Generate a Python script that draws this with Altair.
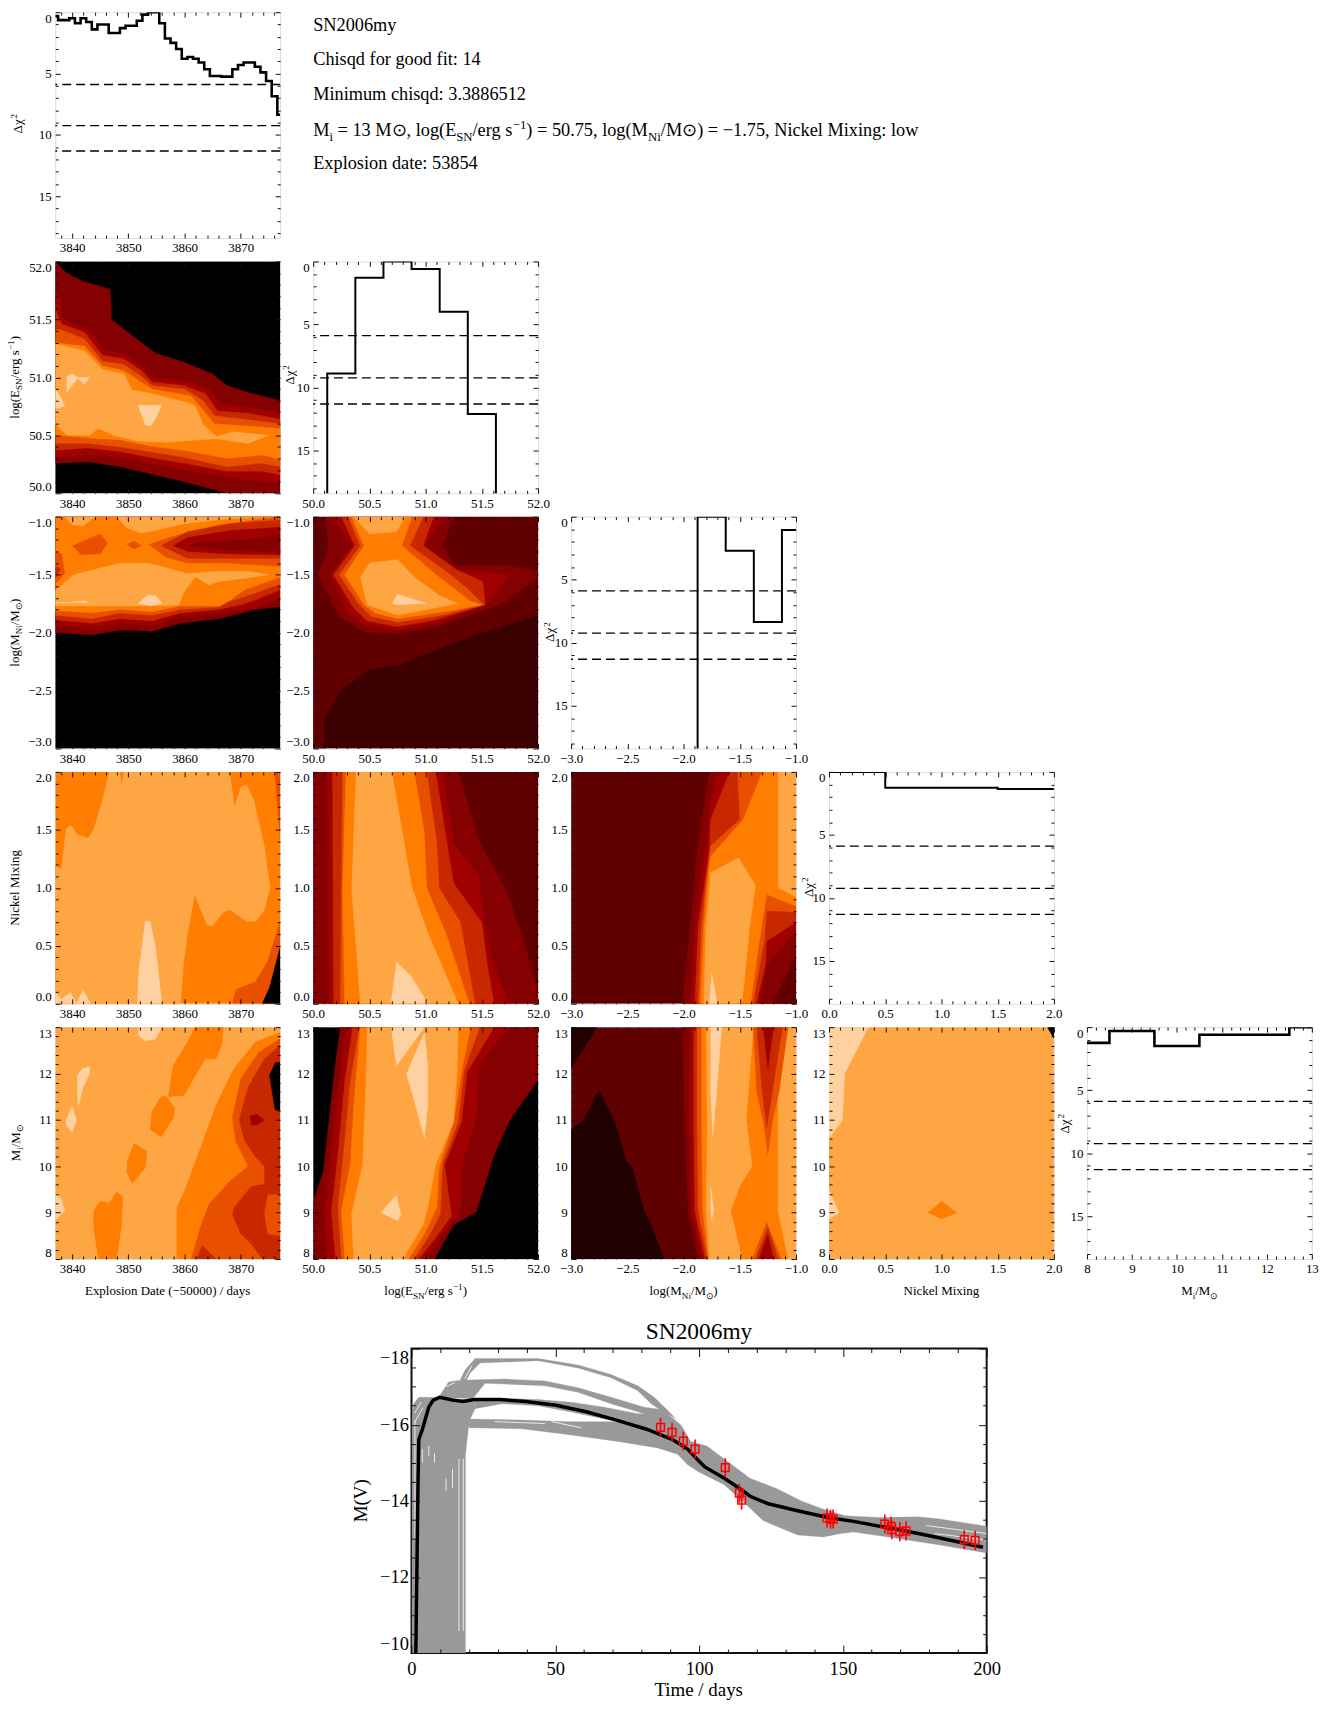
import altair as alt
import pandas as pd

FONT = "Liberation Serif"
PANEL_W, PANEL_H = 226, 233
TOP_H = 227
PEACH, LIGHT, ORANGE, DEEP, RED1, RED2, RED3, RED4, RED5, RED6, BLACK = (
    "#ffd0a0", "#ffa644", "#ff7d00", "#e85000", "#c82800", "#a00000",
    "#850000", "#600000", "#3c0000", "#200000", "#000000")

# axis ranges and ticks
DATE = (3837, 3877, [3840, 3850, 3860, 3870], [v for v in range(3838, 3877, 2) if v % 10], "d", "Explosion Date")
EN = (50, 52, [50, 50.5, 51, 51.5, 52], [50.1, 50.2, 50.3, 50.4, 50.6, 50.7, 50.8, 50.9, 51.1, 51.2, 51.3, 51.4, 51.6, 51.7, 51.8, 51.9], ".1f", "E")
NI = (-3, -1, [-3, -2.5, -2, -1.5, -1], [-2.9, -2.8, -2.7, -2.6, -2.4, -2.3, -2.2, -2.1, -1.9, -1.8, -1.7, -1.6, -1.4, -1.3, -1.2, -1.1], ".1f", "Ni")
MIX = (0, 2, [0, 0.5, 1, 1.5, 2], [0.1, 0.2, 0.3, 0.4, 0.6, 0.7, 0.8, 0.9, 1.1, 1.2, 1.3, 1.4, 1.6, 1.7, 1.8, 1.9], ".1f", "Mix")
MASS = (8, 13, [8, 9, 10, 11, 12, 13], [8.2, 8.4, 8.6, 8.8, 9.2, 9.4, 9.6, 9.8, 10.2, 10.4, 10.6, 10.8, 11.2, 11.4, 11.6, 11.8, 12.2, 12.4, 12.6, 12.8], "d", "M")
CHI_MAJOR = [0, 5, 10, 15]
CHI_MINOR = [1, 2, 3, 4, 6, 7, 8, 9, 11, 12, 13, 14, 16, 17, 18]
CHI_LEVELS = [5.89, 9.24, 11.31]

# one-dimensional chi-square profiles (step curves)
H_DATE = [(3837, 0.32), (3837.5, 0.65), (3839.5, 0.5), (3840.5, 0.9), (3841.5, 0.5), (3842.5, 0.8), (3843.5, 1.4),
          (3844.5, 1.0), (3846.5, 1.7), (3848.5, 1.3), (3849.5, 1.1), (3851.5, 0.7), (3852.5, 0.2), (3853.5, 0.0),
          (3855.5, 0.9), (3856.5, 2.15), (3857.5, 2.5), (3858.5, 3.0), (3859.5, 3.8), (3860.5, 3.65), (3861.5, 3.8),
          (3862.5, 4.1), (3863.5, 4.65), (3864.5, 5.2), (3866.5, 5.25), (3868.5, 4.65), (3869.5, 4.3), (3870.5, 4.1),
          (3872.5, 4.45), (3873.5, 4.9), (3874.5, 5.6), (3875.5, 6.85), (3876.5, 8.35), (3877, 8.35)]
H_E = [(50.125, 20), (50.125, 8.9), (50.375, 1.3), (50.625, 0), (50.875, 0.6), (51.125, 4.0), (51.375, 12.1), (51.625, 20)]
H_NI = [(-1.875, 20), (-1.875, 0), (-1.625, 2.7), (-1.375, 8.35), (-1.125, 1.05), (-1, 1.05)]
H_MIX = [(0, 0), (0.5, 1.25), (1.5, 1.35), (2, 1.35)]
H_M = [(8, 1.25), (8.5, 0.3), (9.5, 1.5), (10.5, 0.6), (12.5, 0), (13, 0)]

# filled contour regions, painted in order
C_DATE_E = [
    (BLACK, [(3837, 50), (3877, 50), (3877, 52), (3837, 52)]),
    (RED3, [(3837, 52), (3839, 51.9), (3841.9, 51.83), (3846.8, 51.76), (3847, 51.5), (3852.3, 51.3), (3854.8, 51.21), (3859.9, 51.13), (3865, 51.03), (3867.5, 50.93), (3871.3, 50.87), (3877, 50.8), (3877, 50), (3867.5, 50), (3859.9, 50.1), (3853.6, 50.17), (3848.5, 50.23), (3842.8, 50.27), (3837, 50.26)]),
    (RED2, [(3837, 51.73), (3837.9, 51.7), (3838.1, 51.53), (3839.7, 51.47), (3842.2, 51.43), (3844.1, 51.36), (3845.4, 51.24), (3849.2, 51.2), (3852.3, 51.1), (3854.2, 51), (3859.9, 50.97), (3864.3, 50.9), (3866.6, 50.77), (3871.3, 50.74), (3877, 50.7), (3877, 50.09), (3873.8, 50.1), (3867.5, 50.14), (3859.9, 50.2), (3853.6, 50.26), (3848.5, 50.31), (3842.8, 50.33), (3837, 50.31)]),
    (RED1, [(3837, 51.6), (3838.1, 51.46), (3842.2, 51.39), (3845.4, 51.19), (3849.2, 51.16), (3852.3, 51.06), (3854.2, 50.96), (3859.9, 50.93), (3863.7, 50.86), (3865.9, 50.71), (3871.3, 50.69), (3877, 50.64), (3877, 50.16), (3873.8, 50.19), (3867.5, 50.19), (3859.9, 50.26), (3853.6, 50.31), (3848.5, 50.36), (3842.8, 50.39), (3837, 50.37)]),
    (DEEP, [(3837, 51.41), (3838.1, 51.41), (3842.2, 51.33), (3845.4, 51.14), (3849.2, 51.11), (3852.3, 51.01), (3854.2, 50.93), (3859.9, 50.9), (3863.1, 50.81), (3865.3, 50.67), (3877, 50.6), (3877, 50.23), (3873.8, 50.26), (3867.5, 50.23), (3859.9, 50.31), (3853.6, 50.36), (3848.5, 50.4), (3842.8, 50.43), (3837, 50.43)]),
    (ORANGE, [(3837, 51.3), (3842.2, 51.27), (3845.4, 51.1), (3849.2, 51.06), (3852.3, 50.96), (3854.2, 50.9), (3861.2, 50.84), (3863.1, 50.73), (3865.3, 50.6), (3877, 50.56), (3877, 50.29), (3873.8, 50.33), (3867.5, 50.3), (3859.9, 50.37), (3853.6, 50.41), (3848.5, 50.46), (3844.7, 50.47), (3837, 50.5)]),
    (LIGHT, [(3837, 51.29), (3842.2, 51.23), (3845.4, 51.07), (3849.2, 51.03), (3850.7, 50.89), (3854.2, 50.86), (3859.9, 50.79), (3861.8, 50.76), (3863.4, 50.59), (3865.6, 50.49), (3868.8, 50.53), (3875.1, 50.5), (3871.3, 50.43), (3865.6, 50.47), (3856.7, 50.44), (3851.7, 50.45), (3847.3, 50.5), (3844.7, 50.56), (3843.1, 50.5), (3839, 50.5), (3837, 50.6)]),
    (PEACH, [(3839, 51.01), (3840, 51.03), (3841, 51), (3843.1, 51), (3842.2, 50.94), (3841, 50.99), (3839, 50.87)]),
    (PEACH, [(3837, 50.9), (3837.9, 50.84), (3838.7, 50.75), (3837, 50.73)]),
    (PEACH, [(3851.7, 50.76), (3856, 50.76), (3854.8, 50.64), (3853.9, 50.58), (3853, 50.59)]),
]
C_DATE_NI = [
    (BLACK, [(3837, -3), (3877, -3), (3877, -1), (3837, -1)]),
    (RED3, [(3837, -2.0), (3843.5, -2.02), (3848.5, -1.98), (3851, -1.98), (3854.2, -1.99), (3859.3, -1.92), (3866.2, -1.88), (3872.6, -1.8), (3877, -1.78), (3877, -1), (3837, -1)]),
    (RED2, [(3837, -1.93), (3843.5, -1.96), (3848.5, -1.92), (3854.2, -1.94), (3859.3, -1.86), (3866.2, -1.83), (3872.6, -1.79), (3877, -1.7), (3877, -1), (3837, -1)]),
    (RED1, [(3837, -1.89), (3843.5, -1.92), (3848.5, -1.88), (3854.2, -1.9), (3859.3, -1.83), (3866.2, -1.8), (3870, -1.76), (3872.6, -1.72), (3877, -1.63), (3877, -1), (3837, -1)]),
    (DEEP, [(3837, -1.85), (3843.5, -1.88), (3848.5, -1.83), (3854.2, -1.85), (3859.3, -1.8), (3866.2, -1.78), (3868.1, -1.73), (3871.3, -1.68), (3877, -1.58), (3877, -1), (3837, -1)]),
    (ORANGE, [(3837, -1.81), (3843.5, -1.83), (3848.5, -1.8), (3854.2, -1.82), (3859.3, -1.77), (3866.2, -1.77), (3868.1, -1.72), (3870.7, -1.63), (3877, -1.52), (3877, -1), (3837, -1)]),
    (DEEP, [(3837, -1.3), (3838.1, -1.32), (3838.7, -1.49), (3837, -1.58)]),
    (RED1, [(3837, -1.43), (3838, -1.45), (3837, -1.53)]),
    (DEEP, [(3840, -1.25), (3845, -1.15), (3846.3, -1.23), (3845, -1.32), (3841.6, -1.33)]),
    (DEEP, [(3849.7, -1.24), (3851, -1.21), (3852.3, -1.25), (3851, -1.28)]),
    (DEEP, [(3853.6, -1.24), (3858.6, -1.16), (3866.2, -1.07), (3877, -1), (3877, -1.43), (3867.5, -1.4), (3860.5, -1.4), (3856.7, -1.35)]),
    (RED1, [(3855.8, -1.25), (3860.5, -1.13), (3868.1, -1.06), (3877, -1.03), (3877, -1.36), (3867.5, -1.36), (3860.5, -1.36)]),
    (RED2, [(3858, -1.25), (3860.5, -1.18), (3868.1, -1.12), (3877, -1.09), (3877, -1.33), (3867.5, -1.32), (3860.5, -1.3)]),
    (RED3, [(3860.5, -1.25), (3863.1, -1.22), (3871.3, -1.2), (3877, -1.16), (3877, -1.3), (3867.5, -1.29), (3863.1, -1.26)]),
    (LIGHT, [(3837, -1.64), (3840.3, -1.5), (3843.5, -1.46), (3848.5, -1.4), (3853.6, -1.4), (3857.4, -1.45), (3860.5, -1.49), (3866.2, -1.47), (3871.3, -1.47), (3875.1, -1.5), (3871.3, -1.53), (3866.2, -1.56), (3864.3, -1.59), (3861.9, -1.52), (3859.9, -1.65), (3859, -1.76), (3856.1, -1.77), (3846, -1.77), (3837, -1.77)]),
    (PEACH, [(3851.7, -1.75), (3853.3, -1.68), (3854.8, -1.68), (3856.1, -1.75), (3853.9, -1.77)]),
    (PEACH, [(3837, -1.74), (3843.1, -1.74), (3842.2, -1.725), (3837, -1.75)]),
    (LIGHT, [(3838.7, -1), (3840, -1.07), (3841.9, -1.08), (3844.1, -1)]),
    (LIGHT, [(3847.9, -1), (3849.8, -1.1), (3852.3, -1.14), (3854.8, -1.12), (3859.9, -1.06), (3867.5, -1.02), (3875.1, -1)]),
]
C_E_NI = [
    (RED5, [(50, -3), (52, -3), (52, -1), (50, -1)]),
    (RED4, [(50, -3), (50.09, -3), (50.1, -2.75), (50.24, -2.5), (50.5, -2.32), (50.75, -2.28), (51.06, -2.16), (51.5, -2.0), (52, -1.85), (52, -1), (50, -1)]),
    (RED3, [(50.1, -1), (50.14, -1.25), (50.04, -1.5), (50.23, -1.86), (50.45, -1.99), (50.75, -2.01), (51.09, -1.95), (51.69, -1.75), (52, -1.52), (52, -1.47), (51.72, -1.42), (51.26, -1.42), (51.15, -1.25), (51.25, -1)]),
    (RED2, [(50.18, -1), (50.34, -1.25), (50.15, -1.5), (50.31, -1.84), (50.47, -1.93), (50.75, -1.98), (51.09, -1.92), (51.54, -1.76), (51.74, -1.5), (51.26, -1.46), (50.99, -1.25), (51.15, -1)]),
    (RED1, [(50.25, -1), (50.37, -1.25), (50.18, -1.5), (50.36, -1.79), (50.48, -1.9), (50.75, -1.95), (51.09, -1.89), (51.53, -1.76), (51.51, -1.56), (51.28, -1.46), (50.98, -1.25), (51.07, -1)]),
    (DEEP, [(50.31, -1), (50.42, -1.25), (50.23, -1.5), (50.41, -1.76), (50.52, -1.86), (50.75, -1.91), (51.15, -1.85), (51.52, -1.76), (51.37, -1.62), (51.18, -1.47), (50.86, -1.25), (50.98, -1)]),
    (ORANGE, [(50.34, -1), (50.45, -1.25), (50.28, -1.5), (50.45, -1.76), (50.55, -1.83), (50.75, -1.88), (51.18, -1.82), (51.5, -1.76), (51.4, -1.73), (51.12, -1.52), (50.79, -1.25), (50.88, -1)]),
    (LIGHT, [(50.36, -1), (50.5, -1.15), (50.74, -1.13), (50.82, -1)]),
    (LIGHT, [(50.5, -1.4), (50.75, -1.37), (50.9, -1.52), (51.12, -1.68), (51.29, -1.75), (50.75, -1.85), (50.48, -1.76), (50.42, -1.52)]),
    (PEACH, [(50.75, -1.67), (51.01, -1.75), (50.75, -1.76), (50.7, -1.75)]),
]
C_DATE_MIX = [
    (ORANGE, [(3837, 0), (3877, 0), (3877, 2), (3837, 2)]),
    (LIGHT, [(3837, 1.19), (3838.1, 1.16), (3838.9, 1.51), (3839.8, 1.54), (3840.9, 1.46), (3842.8, 1.43), (3843.8, 1.5), (3845.4, 1.76), (3846.6, 2), (3848.5, 2), (3848.8, 1.87), (3849.2, 2), (3868, 2), (3868.9, 1.7), (3870, 1.87), (3871, 1.89), (3872.3, 1.76), (3874.2, 1.36), (3875.2, 1.0), (3874.2, 0.81), (3872.6, 0.71), (3871, 0.71), (3868.1, 0.81), (3866.9, 0.79), (3865, 0.67), (3864, 0.68), (3861.8, 0.94), (3860.5, 0.59), (3859.8, 0.33), (3859.3, 0), (3837, 0)]),
    (DEEP, [(3876, 2), (3877, 2), (3877, 1.41)]),
    (DEEP, [(3868.5, 0), (3869.1, 0.12), (3872.6, 0.19), (3874.8, 0.37), (3877, 0.71), (3877, 0)]),
    (BLACK, [(3873.8, 0), (3875.1, 0.14), (3877, 0.49), (3877, 0)]),
    (PEACH, [(3851.6, 0), (3851.8, 0.27), (3853, 0.71), (3853.9, 0.71), (3854.8, 0.5), (3856, 0)]),
    (PEACH, [(3837, 0), (3837, 0.1), (3838.1, 0.04), (3839.7, 0.1), (3840.8, 0), (3841.9, 0.12), (3843.3, 0)]),
]
C_E_MIX = [
    (RED4, [(50, 0), (52, 0), (52, 2), (50, 2)]),
    (RED3, [(50, 2), (51.29, 2), (51.48, 1.39), (51.71, 1), (51.85, 0.61), (52, 0.1), (52, 0), (50, 0)]),
    (RED2, [(50.12, 2), (51.15, 2), (51.25, 1.39), (51.47, 1.1), (51.52, 0.7), (51.61, 0.33), (51.74, 0), (50.14, 0)]),
    (RED1, [(50.17, 2), (51.09, 2), (51.19, 1.39), (51.25, 1.04), (51.5, 0.7), (51.55, 0.33), (51.61, 0), (50.18, 0)]),
    (DEEP, [(50.26, 2), (51.01, 2), (51.1, 1.39), (51.12, 1), (51.31, 0.7), (51.44, 0), (50.24, 0)]),
    (ORANGE, [(50.29, 2), (50.9, 2), (50.99, 1.47), (51.01, 1), (51.18, 0.61), (51.39, 0), (50.28, 0), (50.26, 1)]),
    (LIGHT, [(50.38, 2), (50.7, 2), (50.77, 1.61), (50.88, 1), (51.02, 0.61), (51.29, 0), (50.42, 0), (50.34, 1)]),
    (PEACH, [(50.69, 0), (50.74, 0.36), (50.87, 0.24), (51.02, 0)]),
]
C_NI_MIX = [
    (RED4, [(-3, 0), (-1, 0), (-1, 2), (-3, 2)]),
    (RED3, [(-1.77, 2), (-1.87, 1.39), (-1.91, 1), (-2.01, 0), (-1, 0), (-1, 2)]),
    (RED2, [(-1.7, 2), (-1.76, 1.73), (-1.79, 1.44), (-1.84, 1.13), (-1.9, 0.67), (-1.94, 0), (-1, 0), (-1, 2)]),
    (RED1, [(-1.59, 2), (-1.76, 1.59), (-1.77, 1.33), (-1.8, 1.13), (-1.87, 0.67), (-1.9, 0), (-1, 0), (-1, 2)]),
    (DEEP, [(-1.52, 2), (-1.5, 1.59), (-1.76, 1.36), (-1.79, 1.13), (-1.84, 0.67), (-1.87, 0), (-1, 0), (-1, 2)]),
    (ORANGE, [(-1.3, 2), (-1.47, 1.59), (-1.76, 1.27), (-1.78, 1.13), (-1.82, 0.67), (-1.85, 0), (-1, 0), (-1, 2)]),
    (LIGHT, [(-1.76, 1.13), (-1.51, 1.26), (-1.36, 1.02), (-1.41, 0.67), (-1.48, 0), (-1.82, 0), (-1.8, 0.67)]),
    (LIGHT, [(-1.16, 2), (-1, 2), (-1, 0.92), (-1.16, 1.0)]),
    (DEEP, [(-1.26, 0.94), (-1, 0.84), (-1, 0), (-1.4, 0), (-1.32, 0.56)]),
    (RED1, [(-1.26, 0.8), (-1, 0.79), (-1, 0), (-1.38, 0), (-1.28, 0.54)]),
    (RED2, [(-1.26, 0.54), (-1, 0.7), (-1, 0), (-1.35, 0), (-1.27, 0.33)]),
    (RED3, [(-1.26, 0.33), (-1, 0.63), (-1, 0), (-1.32, 0)]),
    (RED4, [(-1.21, 0), (-1, 0.41), (-1, 0)]),
    (PEACH, [(-1.75, 0.27), (-1.7, 0), (-1.77, 0)]),
]
C_DATE_M = [
    (LIGHT, [(3837, 8), (3877, 8), (3877, 13), (3837, 13)]),
    (ORANGE, [(3861.8, 13), (3866.9, 13), (3866.6, 12.61), (3865.6, 12.32), (3863.7, 12.32), (3861.8, 11.93), (3859.9, 11.52), (3859, 11.52), (3857.1, 11.5), (3858, 12.18), (3860.5, 12.68)]),
    (ORANGE, [(3856.7, 11.52), (3855.8, 11.5), (3854.2, 11.18), (3853.9, 10.79), (3855.8, 10.63), (3858, 11.04), (3858.3, 11.25)]),
    (ORANGE, [(3851, 10.5), (3853.3, 10.32), (3853, 9.96), (3850.7, 9.63), (3849.7, 9.86), (3849.8, 10.11)]),
    (ORANGE, [(3843.8, 9.04), (3845, 9.25), (3846.6, 9.21), (3847.9, 9.45), (3849, 9.34), (3848.8, 8.75), (3847.9, 8), (3844.7, 8), (3843.8, 8.68)]),
    (ORANGE, [(3877, 12.89), (3872.6, 12.68), (3868.8, 12.11), (3865.6, 11.32), (3863.7, 10.68), (3861.5, 9.96), (3859.9, 9.43), (3858.6, 9.11), (3858.6, 8), (3877, 8)]),
    (DEEP, [(3877, 12.75), (3873.2, 12.46), (3870, 11.89), (3868.5, 11.04), (3869.1, 10.54), (3871.3, 10), (3868.1, 9.68), (3864.3, 9.18), (3862.8, 8.68), (3861.2, 8), (3877, 8)]),
    (RED1, [(3877, 12.61), (3874.2, 12.32), (3871.3, 11.71), (3869.7, 11), (3870.7, 10.54), (3872.6, 10.21), (3874.2, 10), (3874.2, 9.61), (3871.9, 9.57), (3868.8, 9.11), (3868.5, 8.96), (3870, 8.54), (3871.9, 8.32), (3873.8, 8), (3877, 8)]),
    (DEEP, [(3874.8, 9.39), (3877, 9.39), (3877, 8.5), (3874.8, 8.54), (3874.2, 9)]),
    (RED1, [(3863.1, 8.29), (3865.6, 8), (3862.1, 8)]),
    (RED2, [(3871.6, 11.09), (3872.9, 11.12), (3874.2, 11), (3872.9, 10.89), (3871.8, 10.88)]),
    (BLACK, [(3876.1, 12.24), (3877, 12.24), (3877, 11.21), (3876.1, 11.21), (3875.1, 11.96)]),
    (PEACH, [(3840.9, 11.96), (3841.9, 12.12), (3843.1, 12.14), (3843.1, 12), (3841.9, 11.68), (3841.1, 11.29), (3840.9, 11.68)]),
    (PEACH, [(3838.9, 11), (3840, 11.29), (3840.8, 11), (3840, 10.74), (3838.9, 10.89)]),
    (PEACH, [(3837, 9.43), (3838.1, 9.29), (3838.7, 9.04), (3837, 8.84)]),
    (PEACH, [(3851.7, 13), (3856, 13), (3854.8, 12.74), (3853, 12.7), (3851.8, 12.82)]),
]
C_E_M = [
    (BLACK, [(50, 8), (52, 8), (52, 13), (50, 13)]),
    (RED3, [(50.24, 13), (50.18, 11.89), (50.12, 10.54), (50.09, 9.89), (50.01, 9.32), (50, 8.96), (50.01, 8), (51.08, 8), (51.25, 8.74), (51.45, 9.01), (51.61, 10.25), (51.75, 11), (52, 11.86), (52, 13)]),
    (RED2, [(50.29, 13), (50.23, 11.82), (50.17, 10.54), (50.12, 9.39), (50.1, 9.04), (50.13, 8), (51.01, 8), (51.15, 8.54), (51.31, 9), (51.32, 10.04), (51.45, 11), (51.47, 12.18), (51.74, 13)]),
    (RED1, [(50.35, 13), (50.28, 11.82), (50.23, 10.54), (50.18, 9.39), (50.16, 9.04), (50.2, 8), (50.94, 8), (51.09, 8.46), (51.23, 8.93), (51.17, 10.04), (51.32, 10.96), (51.37, 12.04), (51.61, 13)]),
    (DEEP, [(50.41, 13), (50.33, 11.82), (50.28, 10.54), (50.22, 9.11), (50.25, 8), (50.9, 8), (51.04, 8.54), (51.13, 8.96), (51.15, 10.04), (51.29, 10.96), (51.34, 12.04), (51.48, 13)]),
    (ORANGE, [(50.42, 13), (50.36, 11.32), (50.33, 10.04), (50.25, 9.04), (50.28, 8), (50.85, 8), (50.99, 8.54), (51.1, 9.11), (51.12, 9.96), (51.25, 10.96), (51.32, 12.04), (51.4, 13)]),
    (LIGHT, [(50.48, 13), (50.47, 11.89), (50.44, 10.04), (50.34, 8.96), (50.36, 8), (50.8, 8), (50.98, 8.75), (51.02, 9.11), (51.09, 10.04), (51.25, 10.96), (51.28, 12.04), (51.29, 13)]),
    (PEACH, [(50.69, 13), (50.99, 13), (50.74, 12.16)]),
    (PEACH, [(50.99, 12.89), (51.02, 12.16), (51.02, 11.32), (50.99, 10.61), (50.83, 12)]),
    (PEACH, [(50.6, 9), (50.74, 9.38), (50.78, 8.96), (50.75, 8.82)]),
]
C_NI_M = [
    (RED4, [(-3, 8), (-1, 8), (-1, 13), (-3, 13)]),
    (RED6, [(-3, 10.79), (-2.89, 11), (-2.75, 11.64), (-2.61, 10.96), (-2.51, 10.11), (-2.46, 10), (-2.35, 9.04), (-2.28, 8.68), (-2.17, 8), (-3, 8)]),
    (RED6, [(-3, 13), (-2.77, 13), (-3, 12.11)]),
    (RED3, [(-2.01, 13), (-1.99, 10.96), (-1.96, 9.04), (-1.87, 8), (-1, 8), (-1, 13)]),
    (RED2, [(-1.94, 13), (-1.95, 10.96), (-1.93, 9.04), (-1.84, 8), (-1, 8), (-1, 13)]),
    (RED1, [(-1.91, 13), (-1.91, 10.89), (-1.9, 9.04), (-1.81, 8), (-1, 8), (-1, 13)]),
    (DEEP, [(-1.88, 13), (-1.88, 10.89), (-1.87, 9.04), (-1.79, 8), (-1, 8), (-1, 13)]),
    (ORANGE, [(-1.84, 13), (-1.84, 10.89), (-1.83, 9.04), (-1.78, 8), (-1, 8), (-1, 13)]),
    (LIGHT, [(-1.8, 13), (-1.79, 10.89), (-1.8, 9.04), (-1.77, 8), (-1.48, 8), (-1.58, 9.04), (-1.5, 9.57), (-1.39, 10), (-1.44, 11), (-1.38, 13)]),
    (LIGHT, [(-1.07, 13), (-1.16, 11.61), (-1.16, 10.07), (-1.16, 9.04), (-1.07, 8), (-1, 8), (-1, 13)]),
    (DEEP, [(-1.38, 13), (-1.35, 11.61), (-1.29, 10.96), (-1.25, 10.25), (-1.21, 10.96), (-1.15, 11.61), (-1.07, 13)]),
    (RED1, [(-1.35, 13), (-1.3, 11.61), (-1.26, 10.82), (-1.21, 11.61), (-1.12, 13)]),
    (RED2, [(-1.29, 13), (-1.25, 12.07), (-1.2, 13)]),
    (DEEP, [(-1.39, 8), (-1.26, 8.79), (-1.13, 8)]),
    (RED1, [(-1.36, 8), (-1.25, 8.68), (-1.16, 8)]),
    (RED2, [(-1.33, 8), (-1.25, 8.54), (-1.2, 8)]),
    (PEACH, [(-1.76, 13), (-1.66, 13), (-1.71, 11.46), (-1.74, 10.64), (-1.76, 11.61)]),
    (PEACH, [(-1.76, 9.57), (-1.73, 9.04), (-1.75, 8.84), (-1.76, 9.04)]),
]
C_MIX_M = [
    (LIGHT, [(0, 8), (2, 8), (2, 13), (0, 13)]),
    (PEACH, [(0, 13), (0.35, 13), (0.14, 12), (0.12, 11), (0, 10.6)]),
    (PEACH, [(0, 9.5), (0.09, 9), (0, 8.86)]),
    (ORANGE, [(0.88, 9), (1, 9.25), (1.14, 9), (1, 8.86)]),
    (BLACK, [(1.94, 13), (2, 13), (2, 12.75)]),
]

# light-curve panel
LC_BEST = [(1.5, -10), (2.25, -14.33), (2.55, -15.61), (3.75, -15.87), (6, -16.46), (7.5, -16.64), (9.75, -16.72),
           (14.25, -16.65), (18, -16.61), (21.75, -16.66), (30.75, -16.66), (39.75, -16.61), (50.25, -16.51),
           (60.75, -16.34), (71.25, -16.12), (81.75, -15.88), (90.75, -15.61), (96, -15.36), (99.75, -15.06),
           (102, -14.89), (108.75, -14.59), (114, -14.33), (117.75, -14.12), (123.75, -13.93), (134.25, -13.74),
           (144.75, -13.56), (153.75, -13.46), (165.75, -13.29), (176.25, -13.14), (188.25, -12.95), (198.75, -12.78)]
LC_DAYS = [86.6, 90.6, 94.5, 98.6, 109.1, 114, 114.8, 144.5, 145.7, 146.6, 164.6, 166.8, 167, 169.8, 172, 192.2, 196]
LC_MAG = [-15.93, -15.8, -15.57, -15.36, -14.87, -14.2, -14.02, -13.55, -13.52, -13.52, -13.39, -13.33, -13.24, -13.19, -13.21, -12.98, -12.96]
LC_ERR = 0.25
GREY = "#999999"
LC_RISE = [(0.15, -10), (0.15, -16.12), (0.75, -16.55), (2.5, -16.72), (9.75, -16.72), (16.95, -16.66), (21, -16.68), (22.1, -16.42), (20.4, -16.15), (19.8, -15.92), (18.75, -15.2), (18.75, -10)]
LC_BUNDLE_MID = [(9.45, -16.72), (12.9, -17.12), (16.95, -17.17), (32.5, -17.2), (46.4, -17.15), (57.9, -16.97), (69.4, -16.72), (80.97, -16.46), (89, -16.38), (89, -16.2), (80.97, -16.29), (69.4, -16.55), (57.9, -16.85), (46.4, -17.02), (25.6, -17.09), (22.1, -16.76), (21, -16.68)]
LC_BUNDLE_TOP = [(16.95, -17.19), (18.7, -17.44), (22.1, -17.74), (44.05, -17.74), (57.9, -17.57), (69.4, -17.32), (78.7, -17.02), (84.4, -16.72), (88.5, -16.42), (91.9, -16.16), (86.7, -16.38), (83.3, -16.55), (78.7, -16.89), (69.4, -17.23), (57.9, -17.49), (44.05, -17.68), (23.9, -17.62), (20.4, -17.36), (18.7, -17.1)]
LC_BUNDLE_MAIN = [(21, -16.68), (31.4, -16.69), (44, -16.66), (55.6, -16.59), (67.1, -16.46), (78.7, -16.29), (89, -16.29), (93.7, -15.99), (97.1, -15.56), (102.75, -15.44), (111.75, -14.93), (117.75, -14.59), (126.75, -14.33), (135.75, -13.99), (143.25, -13.78), (150.75, -13.61), (162.75, -13.56), (176.25, -13.58), (183.75, -13.52), (200, -13.33), (200, -12.63), (183.75, -12.84), (165.75, -13.05), (153.75, -13.18), (149.25, -13.14), (143.25, -13.05), (134.25, -13.1), (122.25, -13.48), (116.25, -13.91), (108.75, -14.42), (99.75, -14.76), (96, -14.95), (92.5, -15.22), (85.6, -15.39), (71.7, -15.56), (55.6, -15.73), (38.3, -15.89), (19.8, -15.92), (20.4, -16.15), (38.3, -16.12), (55.6, -16.08), (71.7, -16.08), (67.1, -16.15), (55.6, -16.33), (44, -16.5), (31.4, -16.55), (22.1, -16.42)]
LC_BANDS = [LC_RISE, LC_BUNDLE_TOP, LC_BUNDLE_MID, LC_BUNDLE_MAIN]
LC_GAPS = [[(3.75, -15.36), (3.75, -15.01)], [(6, -15.44), (6, -15.19)], [(8, -15.25), (8, -15.0)], [(12, -14.59), (12, -14.25)],
           [(14.25, -14.84), (14.25, -14.33)], [(16.5, -15.1), (16.5, -10.58)], [(18, -15.1), (18, -10.58)], [(1.2, -16.1), (1.2, -13.0)],
           [(179, -13.35), (200, -13.14)], [(182, -13.14), (200, -12.97)], [(29, -16.08), (46.4, -16.03)], [(48.7, -16.08), (59, -15.92)],
           [(1, -16.3), (3.5, -16.6)], [(1, -16.05), (4, -16.45)], [(18.5, -17.2), (21, -17.55)], [(12, -17), (15, -17.1)]]

LINES = [
    [("SN2006my", "n")],
    [("Chisqd for good fit: 14", "n")],
    [("Minimum chisqd: 3.3886512", "n")],
    [("M", "n"), ("i", "sub"), (" = 13 M\u2299, log(E", "n"), ("SN", "sub"), ("/erg s", "n"), ("\u22121", "sup"), (") = 50.75, log(M", "n"),
     ("Ni", "sub"), ("/M\u2299) = \u22121.75, Nickel Mixing: low", "n")],
    [("Explosion date: 53854", "n")],
]
LINE_Y = [13, 47, 82, 118, 152]

T_CHI = [("\u0394\u03c7", "n"), ("2", "sup")]
T_E = [("log(E", "n"), ("SN", "sub"), ("/erg s", "n"), ("\u22121", "sup"), (")", "n")]
T_NI = [("log(M", "n"), ("Ni", "sub"), ("/M", "n"), ("\u2299", "sub"), (")", "n")]
T_MIX = [("Nickel Mixing", "n")]
T_M = [("M", "n"), ("i", "sub"), ("/M", "n"), ("\u2299", "sub")]
T_DATE = [("Explosion Date (\u221250000) / days", "n")]

WIDTHS = dict(zip("abcdefghijklmnopqrstuvwxyz", [444, 500, 444, 500, 444, 333, 500, 500, 278, 278, 500, 278, 778, 500, 500, 500, 500, 333, 389, 278, 500, 500, 722, 500, 500, 444]))
WIDTHS.update(dict(zip("ABCDEFGHIJKLMNOPQRSTUVWXYZ", [722, 667, 667, 722, 611, 556, 722, 722, 333, 389, 722, 611, 889, 722, 722, 556, 722, 667, 556, 611, 722, 722, 944, 722, 722, 611])))
WIDTHS.update({" ": 250, ".": 250, ",": 250, ":": 278, "/": 278, "(": 333, ")": 333, "=": 564, "\u2212": 564, "\u0394": 612, "\u03c7": 549, "\u2299": 800})
ONE = pd.DataFrame({"a": [0]})


def text_width(s, size):
    return sum(WIDTHS.get(c, 500) for c in s) * size / 1000


def rich(segs, cx, cy, size, vertical=False, left=False):
    sizes = [size * (0.7 if k != "n" else 1) for _, k in segs]
    total = sum(text_width(s, z) for (s, _), z in zip(segs, sizes))
    adv = 0 if left else -total / 2
    out = []
    for (s, k), z in zip(segs, sizes):
        shift = {"n": 0, "sub": 0.28 * size, "sup": -0.38 * size}[k]
        lead = len(s) - len(s.lstrip(" "))
        adv += text_width(" " * lead, z)
        body = s.lstrip(" ")
        if vertical:
            px, py = cx + 0.33 * size + shift, cy - adv
        else:
            px, py = cx + adv, cy + 0.33 * size + shift
        out.append(alt.Chart(ONE).mark_text(text=body, font=FONT, fontSize=z, align="left", baseline="alphabetic",
                                            angle=270 if vertical else 0, color="black")
                   .encode(x=alt.value(px), y=alt.value(py)))
        adv += text_width(body, z)
    return out


def scale(lo, hi):
    return alt.Scale(domain=[lo, hi], nice=False, zero=False)


def frame(sx, sy, xspec, yspec, lab=13, xpad=4, ypad=4, big=5, small=3):
    (xmaj, xmin, xfmt), (ymaj, ymin, yfmt) = xspec, yspec
    base = pd.DataFrame({"x": sx.domain, "y": sy.domain})
    def ax(orient, vals, size, labels=False, fmt=None, pad=0):
        kw = dict(orient=orient, values=vals, tickSize=size, offset=-size, domain=False, grid=False, title=None,
                  labels=labels, ticks=True, tickColor="#111", tickWidth=1, zindex=1)
        if labels:
            kw.update(format=fmt, labelFont=FONT, labelFontSize=lab, labelColor="black", labelPadding=pad,
                      labelOverlap=False, labelFlush=orient == "left", labelFlushOffset=0)
        return alt.Axis(**kw)
    out = []
    for xo, yo, xv, yv, sz, lb in [("bottom", "left", xmaj, ymaj, big, True), ("top", "right", xmaj, ymaj, big, False),
                                   ("bottom", "left", xmin, ymin, small, False), ("top", "right", xmin, ymin, small, False)]:
        out.append(alt.Chart(base).mark_point(opacity=0).encode(
            x=alt.X("x:Q", scale=sx, axis=ax(xo, xv, sz, lb, xfmt, xpad)),
            y=alt.Y("y:Q", scale=sy, axis=ax(yo, yv, sz, lb, yfmt, ypad))))
    return out


def polys(regions, sx, sy):
    out = []
    for color, pts in regions:
        df = pd.DataFrame(pts, columns=["x", "y"]).assign(i=lambda d: range(len(d)))
        out.append(alt.Chart(df).mark_line(fill=color, stroke=color, strokeWidth=0.3, clip=True).encode(
            x=alt.X("x:Q", scale=sx, axis=None), y=alt.Y("y:Q", scale=sy, axis=None), order="i:Q"))
    return out


def finish(layers, w=PANEL_W, h=PANEL_H, **kw):
    return alt.layer(*layers).resolve_axis(x="independent", y="independent").properties(width=w, height=h, **kw)


def hist_panel(axis, steps, chi_pos, title_y, xtitle=None, h=PANEL_H, lw=2):
    lo, hi, maj, mnr, fmt, _ = axis
    sx, sy = scale(lo, hi), scale(18.4, 0)
    df = pd.DataFrame(steps, columns=["x", "y"]).assign(i=lambda d: range(len(d)))
    line = alt.Chart(df).mark_line(interpolate="step-after", color="black", strokeWidth=lw, clip=True).encode(
        x=alt.X("x:Q", scale=sx, axis=None), y=alt.Y("y:Q", scale=sy, axis=None), order="i:Q")
    dash = alt.Chart(pd.DataFrame({"y": CHI_LEVELS})).mark_rule(color="black", strokeWidth=1.4, strokeDash=[9, 5]).encode(
        y=alt.Y("y:Q", scale=sy, axis=None))
    layers = [dash, line] + frame(sx, sy, (maj, mnr, fmt), (CHI_MAJOR, CHI_MINOR, "d"))
    layers += rich(T_CHI, chi_pos, title_y, 13, vertical=True)
    if xtitle:
        layers += rich(xtitle, PANEL_W / 2, h + 32, 13)
    return finish(layers, h=h)


def contour_panel(regions, xaxis, yaxis, ytitle=None, ytx=-41, xtitle=None):
    sx, sy = scale(xaxis[0], xaxis[1]), scale(yaxis[0], yaxis[1])
    layers = polys(regions, sx, sy) + frame(sx, sy, (xaxis[2], xaxis[3], xaxis[4]), (yaxis[2], yaxis[3], yaxis[4]))
    if ytitle:
        layers += rich(ytitle, ytx, PANEL_H / 2, 13, vertical=True)
    if xtitle:
        layers += rich(xtitle, PANEL_W / 2, PANEL_H + 32, 13)
    return finish(layers)


def blank(w=PANEL_W, h=PANEL_H):
    return alt.Chart(ONE).mark_point(opacity=0).encode(x=alt.value(0), y=alt.value(0)).properties(
        width=w, height=h, view=alt.ViewBackground(stroke="transparent"))


def info_panel():
    layers = []
    for segs, y in zip(LINES, LINE_Y):
        layers += rich(segs, 0, y, 18.4, left=True)
    return alt.layer(*layers).properties(width=PANEL_W, height=TOP_H, view=alt.ViewBackground(stroke="transparent"))


def lc_panel():
    sx, sy = scale(0, 200), scale(-10, -18)
    enc = dict(x=alt.X("x:Q", scale=sx, axis=None), y=alt.Y("y:Q", scale=sy, axis=None))
    layers = polys([(GREY, b) for b in LC_BANDS], sx, sy)
    for seg in LC_GAPS:
        d = pd.DataFrame(seg, columns=["x", "y"]).assign(i=[0, 1])
        layers.append(alt.Chart(d).mark_line(color="white", strokeWidth=0.8, clip=True).encode(order="i:Q", **enc))
    d = pd.DataFrame(LC_BEST, columns=["x", "y"]).assign(i=lambda q: range(len(q)))
    layers.append(alt.Chart(d).mark_line(color="black", strokeWidth=3.5, clip=True).encode(order="i:Q", **enc))
    pts = pd.DataFrame({"x": LC_DAYS, "y": LC_MAG})
    pts["lo"] = pts.y - LC_ERR
    pts["hi"] = pts.y + LC_ERR
    layers.append(alt.Chart(pts).mark_rule(color="#ff0000", strokeWidth=1.6).encode(
        x=alt.X("x:Q", scale=sx, axis=None), y=alt.Y("lo:Q", scale=sy, axis=None), y2="hi:Q"))
    layers.append(alt.Chart(pts).mark_point(shape="square", filled=False, color="#ff0000", size=60, strokeWidth=1.5, opacity=1).encode(**enc))
    layers += frame(sx, sy, ([0, 50, 100, 150, 200], [10, 20, 30, 40, 60, 70, 80, 90, 110, 120, 130, 140, 160, 170, 180, 190], "d"),
                    ([-18, -16, -14, -12, -10], [-17.5, -17, -16.5, -15.5, -15, -14.5, -13.5, -13, -12.5, -11.5, -11, -10.5], "d"),
                    lab=18.6, xpad=7, ypad=3, big=8, small=4)
    layers += rich([("SN2006my", "n")], 289, -17, 23.5)
    layers += rich([("Time / days", "n")], 289, 343, 19)
    layers += rich([("M(V)", "n")], -51, 153, 19, vertical=True)
    return finish(layers, w=578, h=306, view=alt.ViewBackground(stroke="#111", strokeWidth=2))


cells = [
    hist_panel(DATE, H_DATE, -38, 112, h=TOP_H, lw=2.6), info_panel(), blank(h=TOP_H), blank(h=TOP_H), blank(h=TOP_H),
    contour_panel(C_DATE_E, DATE, EN, T_E), hist_panel(EN, H_E, -24, 114), blank(), blank(), blank(),
    contour_panel(C_DATE_NI, DATE, NI, T_NI), contour_panel(C_E_NI, EN, NI), hist_panel(NI, H_NI, -21, 116), blank(), blank(),
    contour_panel(C_DATE_MIX, DATE, MIX, T_MIX), contour_panel(C_E_MIX, EN, MIX), contour_panel(C_NI_MIX, NI, MIX),
    hist_panel(MIX, H_MIX, -20, 116), blank(),
    contour_panel(C_DATE_M, DATE, MASS, T_M, -40, T_DATE), contour_panel(C_E_M, EN, MASS, xtitle=T_E),
    contour_panel(C_NI_M, NI, MASS, xtitle=T_NI), contour_panel(C_MIX_M, MIX, MASS, xtitle=T_MIX),
    hist_panel(MASS, H_M, -22, 97, xtitle=T_M, lw=2.6),
]

grid = alt.concat(*cells, columns=5, bounds="flush", align={"row": "each", "column": "all"},
                  spacing=alt.RowColnumber(row=23.5, column=33.2))
bottom = alt.hconcat(blank(w=324, h=306), lc_panel(), spacing=34, bounds="flush")
chart = alt.vconcat(grid, bottom, spacing=17,
                    padding={"left": -2.5, "top": -4, "right": 0, "bottom": -3}).configure_view(stroke="#222", strokeWidth=1).configure(background="white")
chart.save("out.html", embed_options={"renderer": "svg", "actions": False})
